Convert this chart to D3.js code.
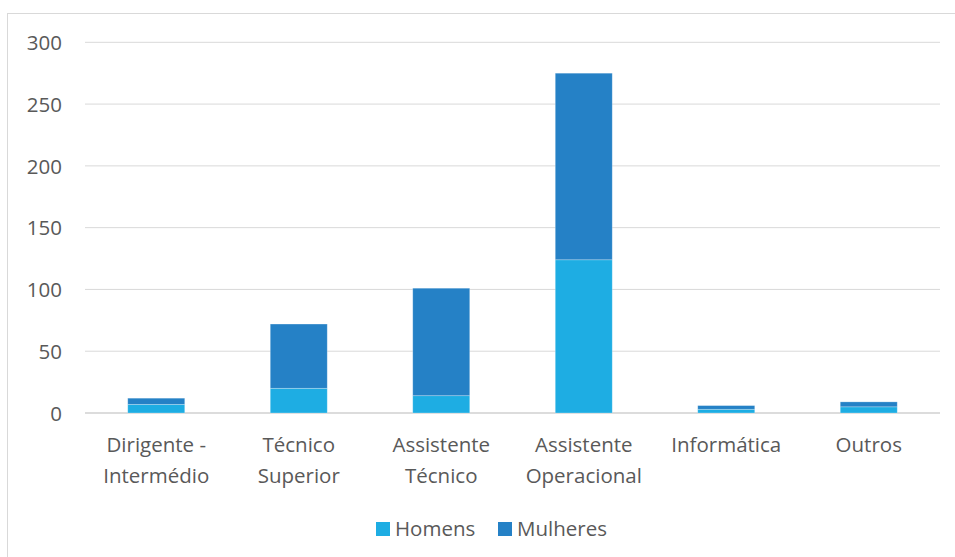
<!DOCTYPE html>
<html><head><meta charset="utf-8">
<script src="https://cdn.jsdelivr.net/npm/d3@7"></script>
<style>
body{margin:0;background:#fff;}
text{font-family:"Open Sans","Noto Sans",sans-serif;fill:#595959;}
</style></head>
<body><svg id="c" width="955" height="557"></svg>
<script>
const categories = [["Dirigente -","Intermédio"],["Técnico","Superior"],["Assistente","Técnico"],["Assistente","Operacional"],["Informática"],["Outros"]];
const seriesNames = ["Homens","Mulheres"];
const homens = [7, 20, 14, 124, 3, 5];
const mulheres = [5, 52, 87, 151, 3, 4];
const yTicks = [0,50,100,150,200,250,300];
const colors = ["#1eade3","#2581c6"];

(function(){
const FS = "20.5px";
const svg = d3.select("#c");
svg.append("rect").attr("x",7.5).attr("y",13.5).attr("width",960).attr("height",560)
  .attr("fill","#fff").attr("stroke","#d9d9d9");

const mLeft=85, mRight=940, mTop=42.3, mBottom=413;
const keys = categories.map((c,i)=>i);
const x = d3.scaleBand().domain(keys).range([mLeft,mRight]).paddingInner(0.6).paddingOuter(0.3);
const y = d3.scaleLinear().domain([0,300]).range([mBottom,mTop]);

const gGrid = svg.append("g");
gGrid.selectAll("line").data(yTicks).join("line")
  .attr("x1",mLeft).attr("x2",mRight)
  .attr("y1",d=>y(d)).attr("y2",d=>y(d))
  .attr("stroke",d=>d===0?"#d0d0d0":"#d9d9d9").attr("stroke-width",d=>d===0?1.5:1);

const yAxis = svg.append("g").attr("transform","translate(62,0)")
  .call(d3.axisLeft(y).tickValues(yTicks).tickSize(0).tickPadding(0));
yAxis.select(".domain").remove();
yAxis.selectAll("text").style("font-size",FS).attr("dy","0.35em").style("fill","#595959")
  .style("font-family","'Open Sans','Noto Sans',sans-serif");

const data = keys.map(i=>({i, Homens:homens[i], Mulheres:mulheres[i]}));
const stack = d3.stack().keys(seriesNames)(data);
svg.append("g").selectAll("g").data(stack).join("g").attr("fill",(d,i)=>colors[i])
  .selectAll("rect").data(d=>d).join("rect")
  .attr("x",d=>x(d.data.i)).attr("width",x.bandwidth())
  .attr("y",d=>y(d[1])).attr("height",d=>y(d[0])-y(d[1]))
  .attr("stroke","rgba(255,255,255,0.35)").attr("stroke-width",0.75);

const xl = svg.append("g");
categories.forEach((lines,i)=>{
  const cx = x(i)+x.bandwidth()/2;
  const t = xl.append("text").attr("x",cx).attr("y",452)
    .attr("text-anchor","middle").style("font-size",FS);
  lines.forEach((ln,j)=>t.append("tspan").attr("x",cx).attr("dy",j===0?0:31).text(ln));
});

const lg = svg.append("g");
const legendItems = [{name:"Homens",x:376},{name:"Mulheres",x:498}];
legendItems.forEach((it,i)=>{
  lg.append("rect").attr("x",it.x).attr("y",522).attr("width",14).attr("height",14).attr("fill",colors[i]);
  lg.append("text").attr("x",it.x+19).attr("y",536).style("font-size",FS).text(it.name);
});
})();
</script></body></html>
